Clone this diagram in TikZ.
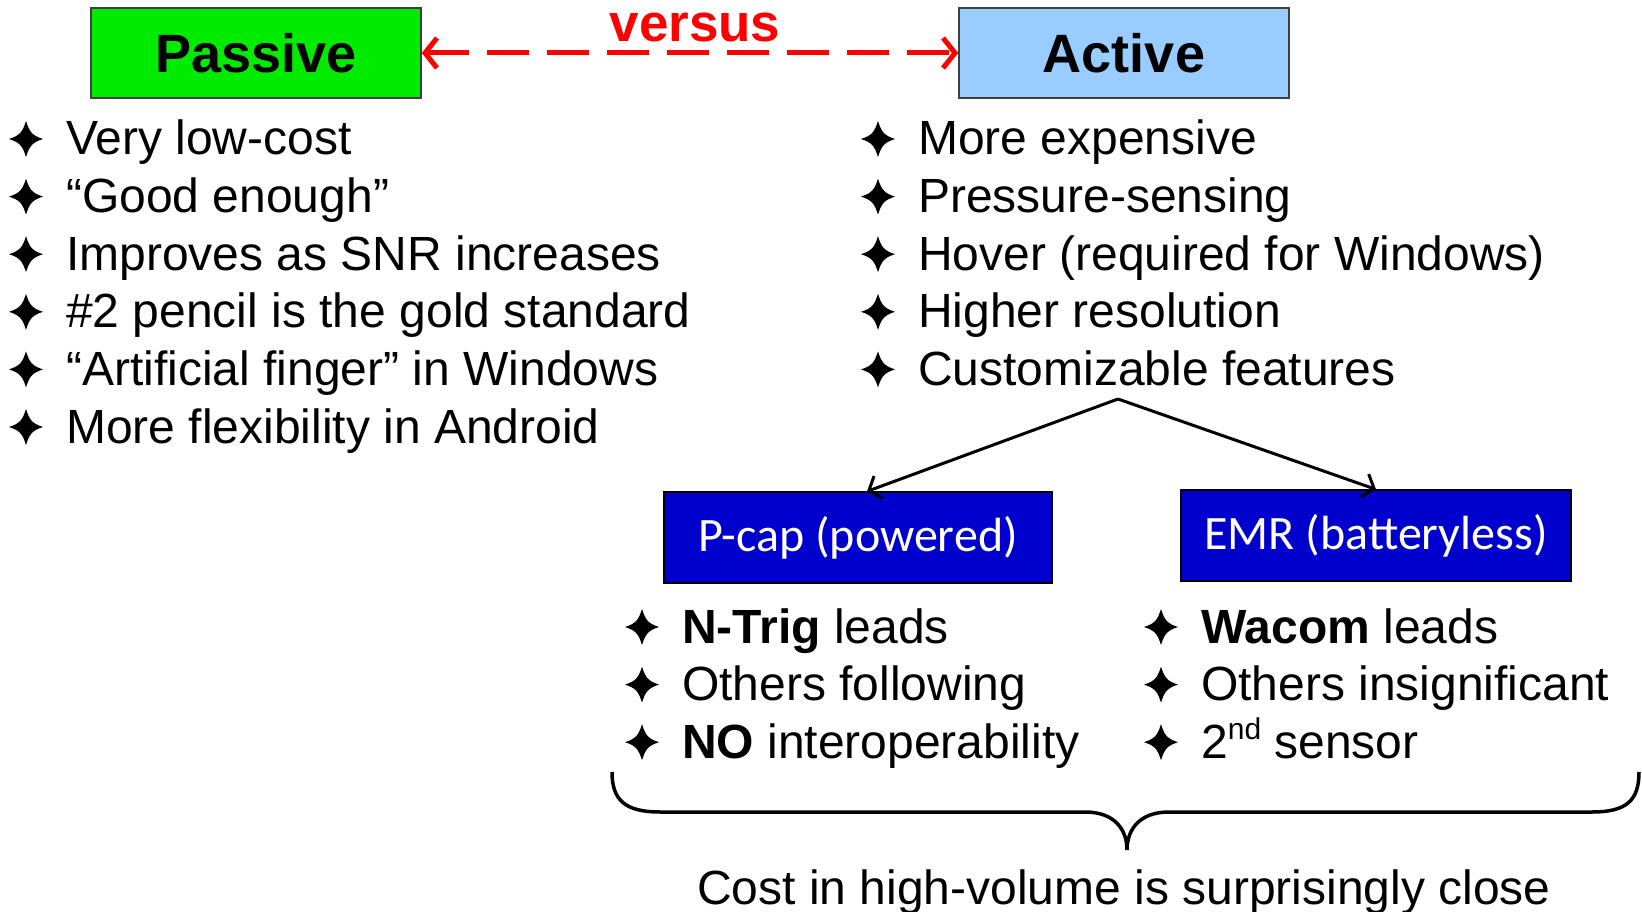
\documentclass[tikz,border=0pt]{standalone}
\usepackage{fontspec}
\setmainfont{Liberation Sans}
\newfontfamily\calibri{Carlito}
\usetikzlibrary{arrows.meta}
\definecolor{passgreen}{RGB}{0,235,0}
\definecolor{actblue}{RGB}{153,204,255}
\definecolor{boxblue}{RGB}{0,0,204}
\newcommand\bul[4]{\pic at (#2-40,#3-16) {star4}; \node[body] (#1) at (#2,#3) {#4};}
\begin{document}
\begin{tikzpicture}[x=1pt,y=-1pt,
  body/.style={anchor=base west, inner sep=0pt, font=\fontsize{48}{57.6}\selectfont},
  topbox/.style={draw=black!75, line width=1.5pt, minimum width=330pt, minimum height=90pt, inner sep=0pt, font=\fontsize{54}{60}\selectfont\bfseries},
  subbox/.style={draw=black, line width=1.2pt, fill=boxblue, text=white, minimum height=91pt, inner sep=0pt, font=\calibri\fontsize{48}{52}\selectfont},
  linkarrow/.style={line width=3pt, -{Straight Barb[length=10pt,width=24pt]}},
  vsarrow/.style={red, line width=5pt, dash pattern=on 42pt off 18pt, {Straight Barb[length=12pt,width=30pt]}-{Straight Barb[length=12pt,width=30pt]}},
  star4/.pic={\fill (17,0) .. controls (6,-3.5) and (3.5,-7) .. (0,-18) .. controls (-3.5,-7) and (-6,-3.5) .. (-17,0) .. controls (-6,3.5) and (-3.5,7) .. (0,18) .. controls (3.5,7) and (6,3.5) .. (17,0) -- cycle;}
]
\useasboundingbox (0,0) rectangle (1642,912);
\node[topbox, fill=passgreen] (passive) at (256,53) {Passive};
\node[topbox, fill=actblue] (active) at (1124,53) {Active};
\draw[vsarrow] (passive) -- (active);
\node[text=red, anchor=base, inner sep=0pt, font=\bfseries\fontsize{53}{60}\selectfont] (versus) at (695,42) {versus};

\bul{l1}{66}{155}{Very low-cost}
\bul{l2}{66}{212.6}{“Good enough”}
\bul{l3}{66}{270.2}{Improves as SNR increases}
\bul{l4}{66}{327.8}{\#2 pencil is the gold standard}
\bul{l5}{66}{385.4}{“Artificial finger” in Windows}
\bul{l6}{66}{443}{More flexibility in Android}

\bul{r1}{918}{155}{More expensive}
\bul{r2}{918}{212.6}{Pressure-sensing}
\bul{r3}{918}{270.2}{Hover (required for Windows)}
\bul{r4}{918}{327.8}{Higher resolution}
\bul{r5}{918}{385.4}{Customizable features}

\node[subbox, minimum width=388pt] (pcap) at (858,537.5) {P-cap (powered)};
\node[subbox, minimum width=390pt] (emr) at (1376,535.5) {EMR (batteryless)};
\coordinate (fork) at (1118,399);
\draw[linkarrow] (fork) -- ([xshift=9pt]pcap.north);
\draw[linkarrow] (fork) -- (emr.north);

\bul{p1}{682}{643}{\textbf{N-Trig} leads}
\bul{p2}{682}{700.6}{Others following}
\bul{p3}{682}{758.2}{\textbf{NO} interoperability}
\bul{e1}{1201}{643}{\textbf{Wacom} leads}
\bul{e2}{1201}{700.6}{Others insignificant}
\bul{e3}{1201}{758.2}{2\raisebox{19pt}{\fontsize{30}{30}\selectfont nd} sensor}

\draw[line width=3.5pt] (612,772) .. controls (612,800) and (625,812) .. (660,812) -- (1085,812) .. controls (1115,812) and (1127,830) .. (1127,850) .. controls (1127,830) and (1139,812) .. (1169,812) -- (1592,812) .. controls (1627,812) and (1639,800) .. (1639,772);
\node[anchor=base, inner sep=0pt, font=\fontsize{48}{57.6}\selectfont] (cost) at (1124,904) {Cost in high-volume is surprisingly close};
\end{tikzpicture}
\end{document}
